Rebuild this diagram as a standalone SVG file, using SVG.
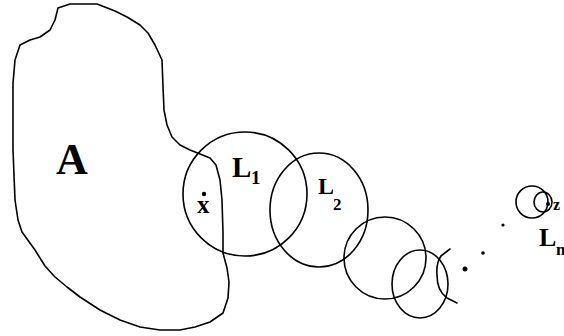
<svg xmlns="http://www.w3.org/2000/svg" width="564" height="336" viewBox="0 0 564 336">
<style>
.ln{fill:none;stroke:#000;stroke-width:1.6;stroke-linejoin:round;stroke-linecap:round}
.lb{font-family:"Liberation Serif",serif;font-weight:bold;fill:#000}
</style>
<rect width="564" height="336" fill="#fff"/>
<g id="regionA">
<polyline class="ln" points="70,4 97,4 115,11 127,17 140,25 148,33 155,45 162,60 163,87 164,110 167,125 172,137 180,145 190,150 200,154 210,158 216,165 220,180 222,200 223,233 223,253 227,268 229,282 228,298 223,313 210,322 195,327 180,330 160,330 140,327 120,320 100,310 80,297 67,287 55,277 45,266 35,250 22,232 18,220 15,200 13,150 13,110 13,83 15,60 20,45 30,40 40,37 50,30 55,20 58,8 70,4"/>
<text class="lb" x="56" y="174" font-size="44">A</text>
</g>
<g id="pointX">
<circle cx="204" cy="194" r="2.2"/>
<text class="lb" x="197" y="213" font-size="25">x</text>
</g>
<g id="L1">
<circle class="ln" cx="245" cy="194" r="62"/>
<text class="lb" x="232" y="177" font-size="29">L</text>
<text class="lb" x="251" y="184" font-size="19">1</text>
</g>
<g id="L2">
<ellipse class="ln" cx="319" cy="210" rx="49" ry="57"/>
<text class="lb" x="318" y="194" font-size="24">L</text>
<text class="lb" x="333" y="210" font-size="17">2</text>
</g>
<g id="L3">
<circle class="ln" cx="385" cy="258" r="41"/>
</g>
<g id="L4">
<ellipse class="ln" cx="420" cy="284" rx="28" ry="34"/>
</g>
<g id="L5">
<path class="ln" d="M450,249 L441,256 Q436,263 437,275 Q437,291 447,298 L457,303"/>
</g>
<g id="dots">
<circle cx="465" cy="269" r="2.5"/>
<circle cx="483" cy="253" r="1.8"/>
<circle cx="503" cy="225" r="1.6"/>
</g>
<g id="Ln">
<circle class="ln" cx="532" cy="202" r="16"/>
<ellipse class="ln" cx="543" cy="202" rx="9" ry="10"/>
<circle cx="548" cy="204" r="2"/>
<text class="lb" x="553" y="210" font-size="16">z</text>
<text class="lb" x="539" y="246" font-size="26">L</text>
<text class="lb" x="556" y="255" font-size="17">n</text>
</g>
</svg>
